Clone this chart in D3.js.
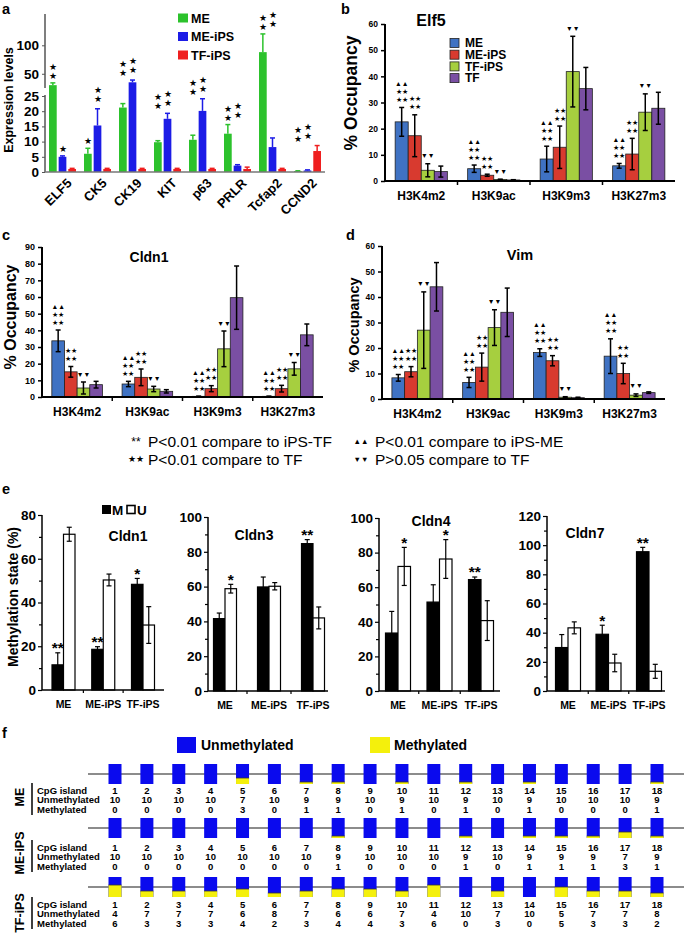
<!DOCTYPE html>
<html><head><meta charset="utf-8">
<script src="https://cdn.jsdelivr.net/npm/d3@7"></script>
<style>body{margin:0;background:#fff;}svg{display:block;}</style>
</head><body><script>
// ================= DATA =================
// Panel a
const aGenes = ["ELF5","CK5","CK19","KIT","p63","PRLR","Tcfap2","CCND2"];
const aSeries = ["ME","ME-iPS","TF-iPS"];
const aME       = [30, 6.0, 21.2, 9.8, 10.6, 12.6, 88, 0.3];
const aMEerr    = [4, 1.8, 1.3, 0.5, 1.5, 3.0, 32, 0.1];
const aMEiPS    = [5.0, 15.3, 35, 17.5, 20.1, 2.1, 8.2, 0.5];
const aMEiPSerr = [0.3, 5.5, 4, 1.8, 4.0, 0.3, 3.0, 0.2];
const aTFiPS    = [1, 1, 1, 1, 1, 1, 1, 6.9];
const aTFiPSerr = [0.2, 0.2, 0.2, 0.2, 0.2, 0.6, 0.2, 1.8];
const aStarsME    = [2,1,2,2,2,2,2,2];
const aStarsMEiPS = [1,2,2,2,2,2,2,2];
const aLowTicks  = [0,5,10,15,20,25];
const aHighTicks = [50,100];

// Panels b, c, d
const histMarks = ["H3K4m2","H3K9ac","H3K9m3","H3K27m3"];
const occSeries = ["ME","ME-iPS","TF-iPS","TF"];
const bME = [22.6, 4.7, 8.4, 5.8],    bMEerr = [5.5, 1.4, 4.9, 0.9];
const bMEiPS = [17.3, 2.2, 12.9, 10.3], bMEiPSerr = [8.0, 0.4, 8.1, 6.0];
const bTFiPS = [4.1, 0.6, 41.8, 26.3],  bTFiPSerr = [2.5, 0.1, 13.5, 7.0];
const bTF = [3.6, 0.4, 35.3, 27.8],     bTFerr = [2.1, 0.1, 8.1, 6.1];
const cME = [33.7, 7.8, 0.4, 0.4],      cMEerr = [6.5, 1.6, 0, 0];
const cMEiPS = [15.1, 11.8, 5.0, 5.0],  cMEiPSerr = [3.2, 5.0, 1.8, 2.0];
const cTFiPS = [5.4, 4.8, 28.9, 16.9],  cTFiPSerr = [3.6, 1.6, 10.7, 3.8];
const cTF = [7.4, 3.4, 59.6, 37.3],     cTFerr = [2.0, 1.0, 19.0, 6.5];
const dME = [8.3, 6.5, 18.2, 16.8],     dMEerr = [1.3, 2.0, 1.5, 6.8];
const dMEiPS = [10.7, 12.5, 15.0, 10.0], dMEiPSerr = [2.0, 5.5, 2.0, 4.0];
const dTFiPS = [27.0, 28.0, 0.7, 1.5],  dTFiPSerr = [15.0, 7.0, 0.2, 0.5];
const dTF = [44.0, 34.0, 0.5, 2.5],     dTFerr = [9.5, 9.5, 0.2, 0.3];
const occMarksME = ["▲▲","★★","★★"];
const occMarksMEiPS = ["★★","★★"];
const occMarksTFiPS = ["▼▼"];
const sigLegend = [
  ["**","P<0.01 compare to iPS-TF","▲▲","P<0.01 compare to iPS-ME"],
  ["★★","P<0.01 compare to TF","▼▼","P>0.05 compare to TF"]
];

// Panel e
const eGenes = ["Cldn1","Cldn3","Cldn4","Cldn7"];
const eGroups = ["ME","ME-iPS","TF-iPS"];
const eMax = [80,100,100,120];
const eCldn1M = [11.5, 18.6, 48.3], eCldn1Merr = [5.5, 1.2, 2.7];
const eCldn1U = [71.2, 50.3, 29.7], eCldn1Uerr = [3.2, 2.7, 8.4];
const eCldn3M = [41.6, 59.8, 84.7], eCldn3Merr = [3.2, 5.7, 2.3];
const eCldn3U = [58.8, 60.2, 42.0], eCldn3Uerr = [2.5, 2.1, 6.3];
const eCldn4M = [33.5, 51.4, 64.4], eCldn4Merr = [12.5, 10.0, 1.5];
const eCldn4U = [72.0, 76.3, 40.7], eCldn4Uerr = [11.0, 11.2, 11.5];
const eCldn7M = [29.8, 38.9, 95.5], eCldn7Merr = [8.9, 6.2, 3.0];
const eCldn7U = [43.3, 19.2, 13.5], eCldn7Uerr = [4.1, 6.0, 4.8];
const eCldn1Mstars = ["**","**","*"], eCldn1Ustars = ["","",""];
const eCldn3Mstars = ["","","**"],    eCldn3Ustars = ["*","",""];
const eCldn4Mstars = ["","","**"],    eCldn4Ustars = ["*","*",""];
const eCldn7Mstars = ["","*","**"],   eCldn7Ustars = ["","",""];

// Panel f
const fCpG = [1,2,3,4,5,6,7,8,9,10,11,12,13,14,15,16,17,18];
const fRows = ["ME","ME-iPS","TF-iPS"];
const fMEUnmeth   = [10,10,10,10,7,10,9,9,10,9,10,9,10,9,10,10,10,9];
const fMEMeth     = [0,0,0,0,3,0,1,1,0,1,0,1,0,1,0,0,0,1];
const fMEiPSUnmeth= [10,10,10,10,10,10,10,9,10,10,10,9,10,9,9,9,7,9];
const fMEiPSMeth  = [0,0,0,0,0,0,0,1,0,0,0,1,0,1,1,1,3,1];
const fTFiPSUnmeth= [4,7,7,7,6,8,7,6,6,7,4,10,7,10,5,7,7,8];
const fTFiPSMeth  = [6,3,3,3,4,2,3,4,4,3,6,0,3,0,5,3,3,2];

// ================= DRAWING =================
const FONT = '"Liberation Sans", Arial, sans-serif';
const svg = d3.select("body").append("svg").attr("width",685).attr("height",933)
  .style("font-family",FONT);

function txt(g,x,y,t,fs,opts={}){
  const el = g.append("text").attr("x",x).attr("y",y).attr("font-size",fs)
    .attr("font-weight",opts.weight||"bold").attr("fill",opts.fill||"#000")
    .attr("text-anchor",opts.anchor||"start").text(t);
  if(opts.db) el.attr("dominant-baseline",opts.db);
  if(opts.rot!==undefined) el.attr("transform",`rotate(${opts.rot},${x},${y})`);
  return el;
}
function styleAxis(a,fs){
  a.attr("font-family",FONT).attr("font-size",fs).attr("font-weight","bold");
  a.selectAll("text").attr("fill","#000");
  a.select(".domain").remove();
}

// panel letters
txt(svg,2,14,"a",14.5); txt(svg,341,14,"b",14.5); txt(svg,2,240,"c",14.5);
txt(svg,346,240,"d",14.5); txt(svg,2,494,"e",14.5); txt(svg,2,738,"f",14.5);

// ---------- Panel a ----------
(function(){
  const g = svg.append("g");
  const aColors = ["#2cc22c","#1c1ce6","#ef1f1f"];
  const x = d3.scaleBand().domain(aGenes).range([45,325]);
  const xi = d3.scaleBand().domain(aSeries).range([4,31]).paddingInner(0.2);
  const yLow = d3.scaleLinear().domain([0,25]).range([172,96]);
  const yHigh = d3.scaleLinear().domain([25,155]).range([88,14]);
  const yA = v => v<=25 ? yLow(v) : yHigh(v);
  const vals=[aME,aMEiPS,aTFiPS], errs=[aMEerr,aMEiPSerr,aTFiPSerr], stars=[aStarsME,aStarsMEiPS];

  aSeries.forEach((s,i)=>{
    const bw = xi.bandwidth();
    const sel = g.append("g").selectAll("g").data(aGenes).join("g");
    sel.append("rect").attr("x",d=>x(d)+xi(s)).attr("width",bw)
      .attr("y",(d,j)=>yA(vals[i][j])).attr("height",(d,j)=>yLow(0)-yA(vals[i][j]))
      .attr("fill",aColors[i]);
    sel.append("line").attr("x1",d=>x(d)+xi(s)+bw/2).attr("x2",d=>x(d)+xi(s)+bw/2)
      .attr("y1",(d,j)=>yA(vals[i][j])).attr("y2",(d,j)=>yA(vals[i][j]+errs[i][j]))
      .attr("stroke",aColors[i]).attr("stroke-width",1.5);
    sel.append("line").attr("x1",d=>x(d)+xi(s)+bw/2-2.5).attr("x2",d=>x(d)+xi(s)+bw/2+2.5)
      .attr("y1",(d,j)=>yA(vals[i][j]+errs[i][j])).attr("y2",(d,j)=>yA(vals[i][j]+errs[i][j]))
      .attr("stroke",aColors[i]).attr("stroke-width",1.5);
    if(i<2){
      aGenes.forEach((gene,j)=>{
        const n = stars[i][j];
        let base = vals[i][j]+errs[i][j];
        if(n===2) base = d3.max(vals.map((v,k)=>v[j]+errs[k][j]));
        const cx = x(gene)+xi(s)+bw/2;
        const y0 = yA(base) - 7 - (n===2 && i===1 ? 3 : 0);
        for(let k=0;k<n;k++) txt(g,cx,y0-k*9,"★",8.5,{anchor:"middle",db:"central",weight:"normal"});
      });
    }
  });
  // axes
  const gl = g.append("g").attr("transform","translate(45,0)")
    .call(d3.axisLeft(yLow).tickValues(aLowTicks).tickSize(3).tickSizeOuter(0).tickPadding(3));
  const gh = g.append("g").attr("transform","translate(45,0)")
    .call(d3.axisLeft(yHigh).tickValues(aHighTicks).tickSize(3).tickSizeOuter(0).tickPadding(3));
  [gl,gh].forEach(a=>{styleAxis(a,13.5); a.selectAll("line").attr("stroke","#555");});
  g.append("line").attr("x1",45).attr("x2",45).attr("y1",yLow(0)).attr("y2",yLow(25)-1).attr("stroke","#555").attr("stroke-width",1.5);
  g.append("line").attr("x1",45).attr("x2",45).attr("y1",yHigh(25)).attr("y2",yHigh(155)).attr("stroke","#555").attr("stroke-width",1.5);
  g.append("line").attr("x1",45).attr("x2",325).attr("y1",yLow(0)).attr("y2",yLow(0)).attr("stroke","#777").attr("stroke-width",1.5);
  // x labels
  aGenes.forEach(gene=>{
    const px = x(gene)+x.bandwidth()/2+10, py = 184;
    txt(g,px,py,gene,13,{anchor:"end",rot:-45});
  });
  txt(g,12.5,100,"Expression levels",12.5,{anchor:"middle",rot:-90});
  // legend
  aSeries.forEach((s,i)=>{
    const ly = 18 + i*18.5;
    g.append("rect").attr("x",178).attr("y",ly-4.5).attr("width",10).attr("height",9).attr("fill",aColors[i]);
    txt(g,191,ly+4.5,s,12.5);
  });
})();

// ---------- Panels b, c, d ----------
function occPanel(cfg){
  const g = svg.append("g");
  const colors = ["#3f72c3","#d83a2f","#a6cf3f","#7a4fa3"];
  const x = d3.scaleBand().domain(histMarks).range([cfg.x0,cfg.x1]);
  const xi = d3.scaleBand().domain(occSeries).range([x.bandwidth()*0.14, x.bandwidth()*0.86]);
  const y = d3.scaleLinear().domain([0,cfg.max]).range([cfg.y0,cfg.yTop]);
  const bw = xi.bandwidth();
  const marks = [occMarksME, occMarksMEiPS, occMarksTFiPS, []];
  occSeries.forEach((s,i)=>{
    const sel = g.append("g").selectAll("g").data(histMarks).join("g");
    const cx = d=>x(d)+xi(s)+bw/2;
    sel.append("rect").attr("x",d=>x(d)+xi(s)).attr("width",bw)
      .attr("y",(d,j)=>y(cfg.vals[i][j])).attr("height",(d,j)=>cfg.y0-y(cfg.vals[i][j]))
      .attr("fill",colors[i]).attr("stroke","#222").attr("stroke-width",0.8);
    sel.append("line").attr("x1",cx).attr("x2",cx)
      .attr("y1",(d,j)=>y(Math.max(0,cfg.vals[i][j]-cfg.errs[i][j]))).attr("y2",(d,j)=>y(cfg.vals[i][j]+cfg.errs[i][j]))
      .attr("stroke","#000").attr("stroke-width",1.5);
    ["lo","hi"].forEach(w=>{
      sel.append("line").attr("x1",d=>cx(d)-2.5).attr("x2",d=>cx(d)+2.5)
        .attr("y1",(d,j)=>y(w==="hi"?cfg.vals[i][j]+cfg.errs[i][j]:Math.max(0,cfg.vals[i][j]-cfg.errs[i][j])))
        .attr("y2",(d,j)=>y(w==="hi"?cfg.vals[i][j]+cfg.errs[i][j]:Math.max(0,cfg.vals[i][j]-cfg.errs[i][j])))
        .attr("stroke","#000").attr("stroke-width",1.5);
    });
    histMarks.forEach((h,j)=>{
      const m = marks[i];
      const top = y(cfg.vals[i][j]+cfg.errs[i][j]);
      m.forEach((t,k)=>{
        const cy = top - 8 - (m.length-1-k)*8;
        txt(g,x(h)+xi(s)+bw/2,cy,t,6.8,{anchor:"middle",db:"central",weight:"normal"});
      });
    });
  });
  const ga = g.append("g").attr("transform",`translate(${cfg.x0},0)`)
    .call(d3.axisLeft(y).tickValues(d3.range(0,cfg.max+1,10)).tickSize(4).tickSizeOuter(0).tickPadding(3));
  styleAxis(ga,cfg.tickFs);
  ga.selectAll("line").attr("stroke","#000").attr("stroke-width",1.5);
  g.append("line").attr("x1",cfg.x0).attr("x2",cfg.x0).attr("y1",cfg.y0).attr("y2",cfg.yTop).attr("stroke","#000").attr("stroke-width",2);
  g.append("line").attr("x1",cfg.x0-1).attr("x2",cfg.x1).attr("y1",cfg.y0).attr("y2",cfg.y0).attr("stroke","#000").attr("stroke-width",2);
  histMarks.slice(1).forEach(h=>{
    g.append("line").attr("x1",x(h)).attr("x2",x(h)).attr("y1",cfg.y0).attr("y2",cfg.y0+4).attr("stroke","#000").attr("stroke-width",1.5);
  });
  histMarks.forEach(h=>txt(g,x(h)+x.bandwidth()/2,cfg.y0+19,h,12,{anchor:"middle"}));
  txt(g,cfg.tx,cfg.ty,cfg.title,cfg.titleFs,{anchor:"middle"});
  txt(g,cfg.ylx,cfg.yly,"% Occupancy",cfg.ylFs,{anchor:"middle",rot:-90});
  if(cfg.legend){
    occSeries.forEach((s,i)=>{
      const ly = 43 + i*11.7;
      g.append("rect").attr("x",450).attr("y",ly-4.5).attr("width",9).attr("height",9)
        .attr("fill",colors[i]).attr("stroke","#222").attr("stroke-width",0.8);
      txt(g,465,ly+4.3,s,12);
    });
  }
}
occPanel({x0:385,x1:675,y0:181,yTop:24,max:60,tickFs:8.5,title:"Elf5",titleFs:16,tx:431,ty:26,
  ylx:357,yly:93,ylFs:17.5,legend:true,
  vals:[bME,bMEiPS,bTFiPS,bTF],errs:[bMEerr,bMEiPSerr,bTFiPSerr,bTFerr]});
occPanel({x0:42,x1:323,y0:397,yTop:247,max:90,tickFs:9,title:"Cldn1",titleFs:14,tx:149,ty:262,
  ylx:16,yly:317,ylFs:16,
  vals:[cME,cMEiPS,cTFiPS,cTF],errs:[cMEerr,cMEiPSerr,cTFiPSerr,cTFerr]});
occPanel({x0:382,x1:665,y0:399,yTop:246,max:60,tickFs:8.5,title:"Vim",titleFs:14.5,tx:520,ty:260,
  ylx:359,yly:325,ylFs:14.5,
  vals:[dME,dMEiPS,dTFiPS,dTF],errs:[dMEerr,dMEiPSerr,dTFiPSerr,dTFerr]});

// significance legend
(function(){
  const g = svg.append("g");
  sigLegend.forEach((row,r)=>{
    const cy = 441 + r*18;
    const fs0 = row[0]==="**" ? 12 : 8.5;
    txt(g,136,cy+(row[0]==="**"?5:0),row[0],fs0,{anchor:"middle",db:row[0]==="**"?null:"central",weight:"normal"});
    txt(g,148,cy+5.5,row[1],15.5,{weight:"normal"});
    txt(g,361,cy,row[2],7.5,{anchor:"middle",db:"central",weight:"normal"});
    txt(g,375,cy+5.5,row[3],15.5,{weight:"normal"});
  });
})();

// ---------- Panel e ----------
const eLayout = [
  {x0:42,x1:164,c0:63.5,c2:143,y0:690,yTop:515,bw:11.5,tx:128,ty:541},
  {x0:208,x1:328,c0:225,c2:313,y0:691,yTop:517,bw:11.5,tx:254,ty:540},
  {x0:379,x1:500,c0:398,c2:481,y0:691,yTop:518,bw:12.5,tx:431,ty:526},
  {x0:547,x1:665,c0:568,c2:649,y0:691,yTop:516,bw:12.5,tx:585,ty:538}
];
const eM = [eCldn1M,eCldn3M,eCldn4M,eCldn7M], eMerr=[eCldn1Merr,eCldn3Merr,eCldn4Merr,eCldn7Merr];
const eU = [eCldn1U,eCldn3U,eCldn4U,eCldn7U], eUerr=[eCldn1Uerr,eCldn3Uerr,eCldn4Uerr,eCldn7Uerr];
const eMs = [eCldn1Mstars,eCldn3Mstars,eCldn4Mstars,eCldn7Mstars];
const eUs = [eCldn1Ustars,eCldn3Ustars,eCldn4Ustars,eCldn7Ustars];
eGenes.forEach((gene,p)=>{
  const L = eLayout[p];
  const g = svg.append("g");
  const x = d3.scalePoint().domain(eGroups).range([L.c0,L.c2]);
  const y = d3.scaleLinear().domain([0,eMax[p]]).range([L.y0,L.yTop]);
  const series = [{v:eM[p],e:eMerr[p],s:eMs[p],fill:"#000",off:-L.bw},{v:eU[p],e:eUerr[p],s:eUs[p],fill:"#fff",off:0}];
  series.forEach(S=>{
    const sel = g.append("g").selectAll("g").data(eGroups).join("g");
    sel.append("rect").attr("x",d=>x(d)+S.off).attr("width",L.bw)
      .attr("y",(d,j)=>y(S.v[j])).attr("height",(d,j)=>L.y0-y(S.v[j]))
      .attr("fill",S.fill).attr("stroke","#000").attr("stroke-width",1.2);
    const cx = d=>x(d)+S.off+L.bw/2;
    sel.append("line").attr("x1",cx).attr("x2",cx)
      .attr("y1",(d,j)=>y(S.v[j]-S.e[j])).attr("y2",(d,j)=>y(S.v[j]+S.e[j]))
      .attr("stroke","#000").attr("stroke-width",1.2);
    [1,-1].forEach(sg=>{
      sel.append("line").attr("x1",d=>cx(d)-2.5).attr("x2",d=>cx(d)+2.5)
        .attr("y1",(d,j)=>y(S.v[j]+sg*S.e[j])).attr("y2",(d,j)=>y(S.v[j]+sg*S.e[j]))
        .attr("stroke","#000").attr("stroke-width",1.2);
    });
    eGroups.forEach((gr,j)=>{
      if(S.s[j]) txt(g,cx(gr),y(S.v[j]+S.e[j])+0.5,S.s[j],15.5,{anchor:"middle"});
    });
  });
  const ticksMaj = d3.range(0,eMax[p]+1,20);
  const ticksMin = d3.range(10,eMax[p],20);
  const ga = g.append("g").attr("transform",`translate(${L.x0},0)`)
    .call(d3.axisLeft(y).tickValues(ticksMaj).tickSize(4).tickSizeOuter(0).tickPadding(2));
  styleAxis(ga,13.5);
  ga.selectAll("line").attr("stroke","#000").attr("stroke-width",1.2);
  const gm = g.append("g").attr("transform",`translate(${L.x0},0)`)
    .call(d3.axisLeft(y).tickValues(ticksMin).tickSize(3).tickSizeOuter(0).tickFormat(""));
  gm.select(".domain").remove(); gm.selectAll("line").attr("stroke","#000").attr("stroke-width",1.2);
  g.append("line").attr("x1",L.x0).attr("x2",L.x0).attr("y1",L.y0).attr("y2",L.yTop).attr("stroke","#000").attr("stroke-width",1.5);
  g.append("line").attr("x1",L.x0).attr("x2",L.x1).attr("y1",L.y0).attr("y2",L.y0).attr("stroke","#000").attr("stroke-width",1.5);
  [0,1].forEach(k=>{
    const bx = (x(eGroups[k])+x(eGroups[k+1]))/2;
    g.append("line").attr("x1",bx).attr("x2",bx).attr("y1",L.y0).attr("y2",L.y0+3).attr("stroke","#000").attr("stroke-width",1.2);
  });
  eGroups.forEach(gr=>txt(g,x(gr),L.y0+18,gr,10.5,{anchor:"middle"}));
  txt(g,L.tx,L.ty,gene,14,{anchor:"middle"});
  if(p===0){
    txt(g,18,597,"Methylation state (%)",14,{anchor:"middle",rot:-90});
    g.append("rect").attr("x",102).attr("y",505).attr("width",9).attr("height",9).attr("fill","#000");
    txt(g,112,515,"M",13.5);
    g.append("rect").attr("x",127).attr("y",505.5).attr("width",8).attr("height",8).attr("fill","#fff").attr("stroke","#000").attr("stroke-width",1.6);
    txt(g,137,515,"U",13.5);
  }
});

// ---------- Panel f ----------
(function(){
  const g = svg.append("g");
  const blue = "#0a0aee", yellow = "#f4f00c";
  const x = d3.scalePoint().domain(fCpG).range([115,657]);
  const h = d3.scaleLinear().domain([0,10]).range([0,20]);
  const unm = [fMEUnmeth,fMEiPSUnmeth,fTFiPSUnmeth], met=[fMEMeth,fMEiPSMeth,fTFiPSMeth];
  const lineY = [774,828,887], textY = [790,847,904], labY=[797,853,913];
  // legend
  g.append("rect").attr("x",177).attr("y",737).attr("width",19).attr("height",16).attr("fill",blue);
  txt(g,201,750,"Unmethylated",14);
  g.append("rect").attr("x",370).attr("y",737).attr("width",20).attr("height",16).attr("fill",yellow);
  txt(g,394,750,"Methylated",14);
  fRows.forEach((r,i)=>{
    g.append("line").attr("x1",88).attr("x2",684).attr("y1",lineY[i]).attr("y2",lineY[i]).attr("stroke","#666").attr("stroke-width",1.3);
    const top = lineY[i]-10;
    const sel = g.append("g").selectAll("g").data(fCpG).join("g");
    sel.append("rect").attr("x",d=>x(d)-6.5).attr("width",13).attr("y",top).attr("height",h(10)).attr("fill",blue);
    sel.append("rect").attr("x",d=>x(d)-6.5).attr("width",13)
      .attr("y",(d,j)=>top+h(unm[i][j])).attr("height",(d,j)=>h(met[i][j])).attr("fill",yellow);
    sel.append("line").attr("x1",d=>x(d)-6.5).attr("x2",d=>x(d)+6.5)
      .attr("y1",(d,j)=>top+h(unm[i][j])).attr("y2",(d,j)=>top+h(unm[i][j]))
      .attr("stroke",(d,j)=>met[i][j]>0&&unm[i][j]>0?"#333":"none").attr("stroke-width",0.8);
    const ty = textY[i];
    ["CpG island","Unmethylated","Methylated"].forEach((t,k)=>txt(g,37,ty+3.5+k*9.7,t,9.5));
    fCpG.forEach((c,j)=>{
      txt(g,x(c),ty+3.5,String(c),9.5,{anchor:"middle"});
      txt(g,x(c),ty+3.5+9.7,String(unm[i][j]),9.5,{anchor:"middle"});
      txt(g,x(c),ty+3.5+19.4,String(met[i][j]),9.5,{anchor:"middle"});
    });
    g.append("line").attr("x1",32).attr("x2",32).attr("y1",ty-7).attr("y2",ty+25).attr("stroke","#000").attr("stroke-width",1.5);
    txt(g,24,labY[i],r,12.5,{anchor:"middle",rot:-90});
  });
})();
</script></body></html>
